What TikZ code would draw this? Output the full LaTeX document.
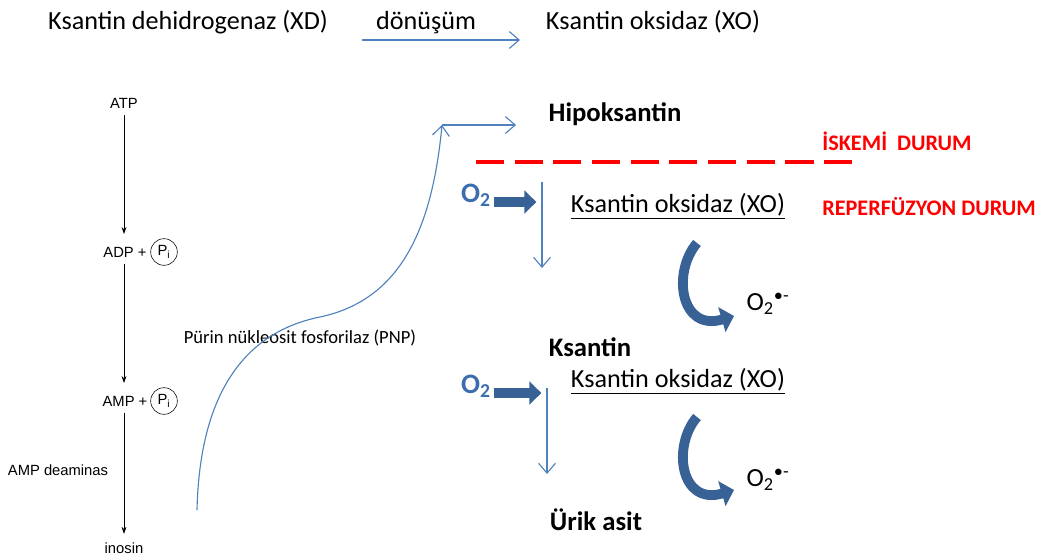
\documentclass[tikz,border=0pt]{standalone}
\usepackage{fontspec}
\setmainfont{Carlito}
\newfontfamily\arialfont{Liberation Sans}
\definecolor{xoblue}{RGB}{79,129,189}
\definecolor{xodark}{RGB}{56,98,150}
\definecolor{oxyblue}{RGB}{60,110,175}
\definecolor{durumred}{RGB}{255,0,0}
\usetikzlibrary{arrows.meta,positioning}

\begin{document}
\begin{tikzpicture}[
  x=0.025cm,y=-0.025cm,
  lbl/.style={font=\fontsize{18.6}{22}\selectfont,inner sep=2pt},
  head/.style={font=\fontsize{19}{23}\selectfont\bfseries,inner sep=2pt},
  durum/.style={font=\fontsize{15.8}{19}\selectfont\bfseries,text=durumred,inner sep=2pt},
  small/.style={font=\arialfont\fontsize{10.5}{12}\selectfont,inner sep=2pt},
  pcirc/.style={circle,draw,thin,inner sep=2.2pt,font=\arialfont\fontsize{10.5}{12}\selectfont},
  oxy/.style={font=\fontsize{20}{24}\selectfont\bfseries,text=oxyblue,inner sep=2pt},
  thinarr/.style={xoblue,line width=0.8pt,-{Straight Barb[length=7pt,width=12pt]}},
  blkarr/.style={black,line width=0.5pt,-{Stealth[length=5pt,width=3.5pt]}},
  blockarr/.style={xodark,line width=7.5pt,-{Triangle[length=8.5pt,width=16pt]}},
  curvarr/.style={xodark,line width=7pt,-{Triangle[length=9pt,width=18pt]}},
  sepline/.style={durumred,line width=2.2pt,dash pattern=on 20pt off 7.5pt}
]
  \useasboundingbox (0,0) rectangle (1043,559);
  % Conversion
  \node[lbl] (xd) at (188,22) {Ksantin dehidrogenaz (XD)};
  \node[lbl,anchor=base] (donusum) at (xd.base -| 426,0) {dönüşüm};
  \node[lbl] (xo) at (653,22) {Ksantin oksidaz (XO)};
  \coordinate (conv1) at (362,40);
  \coordinate (conv2) at (520,40);
  \draw[thinarr] (conv1) -- (conv2);
  % ATP breakdown
  \node[small] (atp) at (124,103) {ATP};
  \node[small] (adp) at (125,252) {ADP +};
  \node[pcirc] (pia) at (164,252) {P\textsubscript{i}};
  \node[small] (amp) at (125,401) {AMP +};
  \node[pcirc] (pib) at (164,401) {P\textsubscript{i}};
  \node[small] (inosin) at (124,548) {inosin};
  \node[small] (deam) at (58,470) {AMP deaminas};
  \draw[blkarr,shorten <=3pt,shorten >=7pt] (atp.south) -- (atp.south |- adp.north);
  \draw[blkarr,shorten <=3pt,shorten >=7pt] (atp.south |- adp.south) -- (atp.south |- amp.north);
  \draw[blkarr,shorten <=3pt,shorten >=4pt] (atp.south |- amp.south) -- (atp.south |- inosin.north);
  % PNP
  \node[font=\fontsize{13.2}{16}\selectfont] (pnp) at (300,338) {Pürin nükleosit fosforilaz (PNP)};
  \coordinate (pnps) at (197,510);
  \coordinate (pnpm) at (320,317);
  \coordinate (corner) at (442,125);
  \draw[thinarr] (pnps) .. controls (200,380) and (255,330) .. (pnpm)
    .. controls (400,300) and (432,230) .. (corner);
  % Hipoksantin
  \node[head] (hipo) at (615,114) {Hipoksantin};
  \draw[thinarr,shorten >=21pt] (corner) -- (corner -| hipo.west);
  % Ischemia / reperfusion
  \node[durum] (iskemi) at (897,141) {İSKEMİ\ \ DURUM};
  \node[durum] (reperf) at (929,207) {REPERFÜZYON DURUM};
  \coordinate (sepl) at (476,162);
  \coordinate (sepr) at (862,162);
  \draw[sepline] (sepl) -- (sepr);
  % First oxidation
  \node[oxy,anchor=base east] (o2a) at (494,202) {O\textsubscript{2}};
  \coordinate (oxa1) at (542,182);
  \coordinate (oxa2) at (542,268);
  \draw[blockarr,shorten >=4pt] (o2a.base east) -- (o2a.base -| oxa1);
  \draw[thinarr] (oxa1) -- (oxa2);
  \node[lbl] (xoa) at (678,206) {\underline{Ksantin oksidaz (XO)}};
  \node[lbl] (supa) at (768,304) {O\textsubscript{2}\textsuperscript{\textbullet-}};
  \coordinate (cura1) at (697,243);
  \coordinate (cura2) at (734,316);
  \draw[curvarr] (cura1) .. controls (672,272) and (680,332) .. (cura2);
  % Ksantin
  \node[head] (ksantin) at (590,347) {Ksantin};
  % Second oxidation
  \node[oxy,anchor=base east] (o2b) at (494,393) {O\textsubscript{2}};
  \coordinate (oxb1) at (547,388);
  \coordinate (oxb2) at (547,474);
  \draw[blockarr,shorten >=4pt] (o2b.base east) -- (o2b.base -| oxb1);
  \draw[thinarr] (oxb1) -- (oxb2);
  \node[lbl] (xob) at (678,381) {\underline{Ksantin oksidaz (XO)}};
  \node[lbl] (supb) at (768,480) {O\textsubscript{2}\textsuperscript{\textbullet-}};
  \coordinate (curb1) at (697,417);
  \coordinate (curb2) at (734,490);
  \draw[curvarr] (curb1) .. controls (672,446) and (680,506) .. (curb2);
  % Uric acid
  \node[head] (urik) at (596,520) {Ürik asit};
\end{tikzpicture}
\end{document}
